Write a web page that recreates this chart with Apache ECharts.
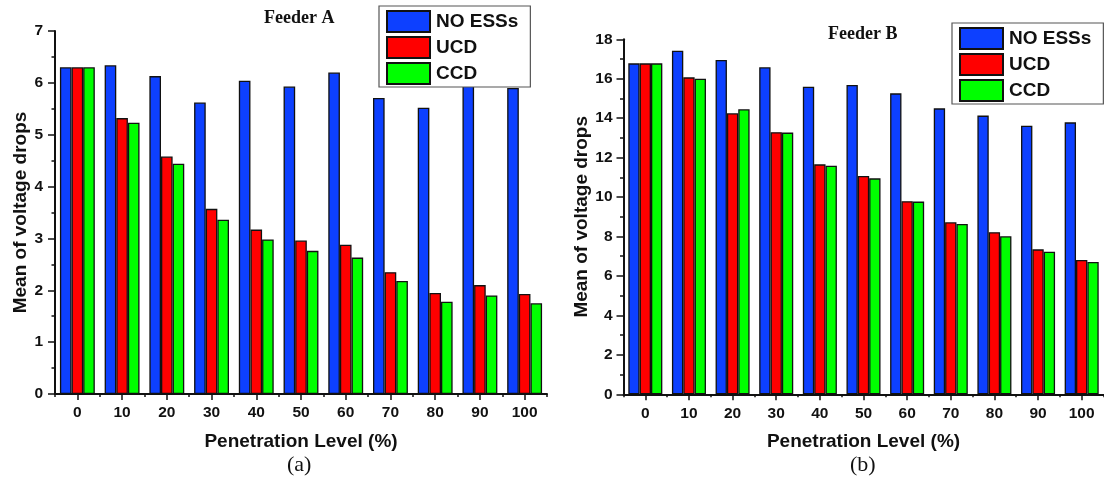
<!DOCTYPE html>
<html>
<head>
<meta charset="utf-8">
<script src="https://cdn.jsdelivr.net/npm/echarts@6/dist/echarts.min.js"></script>
<style>
  html, body { margin: 0; padding: 0; background: #fff; }
  #chart { width: 1104px; height: 489px; }
</style>
</head>
<body>
<div id="chart"></div>
<script>
// Penetration levels (%) on the x axis
const levels = ['0', '10', '20', '30', '40', '50', '60', '70', '80', '90', '100'];
const seriesNames = ['NO ESSs', 'UCD', 'CCD'];

// Feeder A: mean of voltage drops
const feederA_noEss = [6.30, 6.34, 6.13, 5.62, 6.04, 5.93, 6.20, 5.71, 5.52, 6.08, 5.90];
const feederA_ucd   = [6.30, 5.32, 4.58, 3.57, 3.17, 2.96, 2.88, 2.35, 1.95, 2.10, 1.93];
const feederA_ccd   = [6.30, 5.23, 4.44, 3.36, 2.98, 2.76, 2.63, 2.18, 1.78, 1.90, 1.75];

// Feeder B: mean of voltage drops
const feederB_noEss = [16.78, 17.42, 16.95, 16.58, 15.60, 15.68, 15.26, 14.50, 14.13, 13.62, 13.79];
const feederB_ucd   = [16.78, 16.07, 14.25, 13.29, 11.66, 11.07, 9.79, 8.72, 8.22, 7.35, 6.81];
const feederB_ccd   = [16.78, 16.00, 14.45, 13.27, 11.59, 10.95, 9.77, 8.64, 8.01, 7.23, 6.71];

const colors = ['#0d40ff', '#ff0000', '#00ff00'];
const SANS = 'Liberation Sans';
const SERIF = 'Liberation Serif';

function mainX(gridIndex) {
  return {
    type: 'category', gridIndex, data: levels, position: 'bottom',
    name: 'Penetration Level (%)', nameLocation: 'middle', nameGap: 38,
    nameTextStyle: { fontFamily: SANS, fontWeight: 'bold', fontSize: 19, color: '#111' },
    axisLine: { show: true, lineStyle: { color: '#111', width: 2 } },
    axisTick: { show: true, alignWithLabel: true, length: 6, lineStyle: { color: '#111', width: 1.5 } },
    axisLabel: { margin: 11, fontFamily: SANS, fontWeight: 'bold', fontSize: 15.5, color: '#111' },
    splitLine: { show: false }
  };
}
// Short ticks on the category boundaries
function boundaryX(gridIndex) {
  return {
    type: 'category', gridIndex, data: levels, position: 'bottom',
    axisLine: { show: false },
    axisTick: { show: true, alignWithLabel: false, length: 3, lineStyle: { color: '#111', width: 1.5 } },
    axisLabel: { show: false },
    splitLine: { show: false }
  };
}
function valueY(gridIndex, max, interval, nameGap, margin) {
  return {
    type: 'value', gridIndex, min: 0, max, interval,
    name: 'Mean of voltage drops', nameLocation: 'middle', nameGap,
    nameTextStyle: { fontFamily: SANS, fontWeight: 'bold', fontSize: 19, color: '#111' },
    axisLine: { show: true, lineStyle: { color: '#111', width: 2 } },
    axisTick: { show: true, length: 7, lineStyle: { color: '#111', width: 1.5 } },
    minorTick: { show: true, splitNumber: 2, length: 3.5, lineStyle: { color: '#111', width: 1.5 } },
    axisLabel: { margin, fontFamily: SANS, fontWeight: 'bold', fontSize: 15.5, color: '#111' },
    splitLine: { show: false },
    minorSplitLine: { show: false }
  };
}
function bars(name, data, xi, yi, color) {
  return {
    type: 'bar', name, data, xAxisIndex: xi, yAxisIndex: yi,
    barGap: '0%', barCategoryGap: '22%',
    itemStyle: { color, borderColor: '#111', borderWidth: 1.3 },
    emphasis: { disabled: true }
  };
}
function legendAt(left, top) {
  return {
    left, top, orient: 'vertical', data: seriesNames,
    itemWidth: 43, itemHeight: 21, itemGap: 3,
    padding: [4, 12, 2, 7],
    borderColor: '#555', borderWidth: 1.2, backgroundColor: '#fff',
    icon: 'rect',
    textStyle: { fontFamily: SANS, fontWeight: 'bold', fontSize: 19, color: '#111', padding: [0, 0, 0, 1] },
    selectedMode: false
  };
}

const chart = echarts.init(document.getElementById('chart'), null, { renderer: 'canvas' });
chart.setOption({
  animation: false,
  backgroundColor: '#fff',
  title: [
    { text: 'Feeder A', left: 264, top: 9, padding: 0,
      textStyle: { fontFamily: SERIF, fontWeight: 'bold', fontSize: 18, color: '#111' } },
    { text: 'Feeder B', left: 828, top: 25, padding: 0,
      textStyle: { fontFamily: SERIF, fontWeight: 'bold', fontSize: 18, color: '#111' } },
    { text: '(a)', left: 287, top: 454, padding: 0,
      textStyle: { fontFamily: SERIF, fontWeight: 'normal', fontSize: 22, color: '#111' } },
    { text: '(b)', left: 850, top: 454, padding: 0,
      textStyle: { fontFamily: SERIF, fontWeight: 'normal', fontSize: 22, color: '#111' } }
  ],
  legend: [legendAt(379, 6), legendAt(952, 23)],
  grid: [
    { left: 55, top: 31, width: 492, height: 363, containLabel: false },
    { left: 623.5, top: 39.3, width: 480, height: 355, containLabel: false }
  ],
  xAxis: [mainX(0), boundaryX(0), mainX(1), boundaryX(1)],
  yAxis: [valueY(0, 7, 1, 24, 12), valueY(1, 18, 2, 32, 11)],
  series: [
    bars(seriesNames[0], feederA_noEss, 0, 0, colors[0]),
    bars(seriesNames[1], feederA_ucd, 0, 0, colors[1]),
    bars(seriesNames[2], feederA_ccd, 0, 0, colors[2]),
    bars(seriesNames[0], feederB_noEss, 2, 1, colors[0]),
    bars(seriesNames[1], feederB_ucd, 2, 1, colors[1]),
    bars(seriesNames[2], feederB_ccd, 2, 1, colors[2])
  ]
});
</script>
</body>
</html>
